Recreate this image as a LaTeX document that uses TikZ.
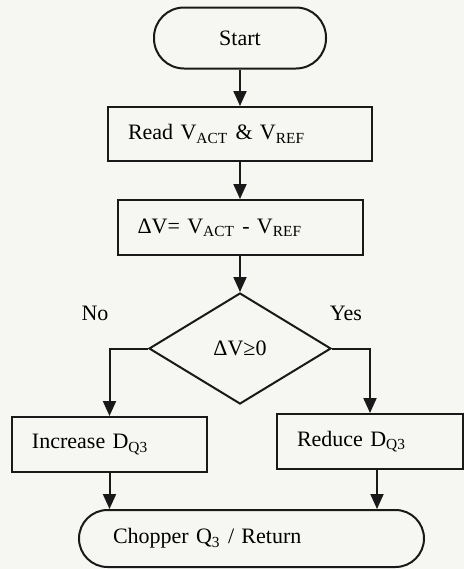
\documentclass[tikz,border=0pt]{standalone}
\usepackage{fontspec}
\setmainfont{Liberation Serif}
\usepackage{xcolor}
\usetikzlibrary{shapes.geometric,arrows.meta}
\definecolor{mypaper}{RGB}{246,246,242}
\definecolor{myink}{RGB}{25,25,25}

\begin{document}
\begin{tikzpicture}[auto, font=\fontsize{11}{13}\selectfont,
  terminal/.style={rectangle, draw=myink, line width=1pt, rounded corners=#1, align=center},
  block/.style={rectangle, draw=myink, line width=1pt, align=left, inner xsep=10pt, text width=#1, minimum height=27.5pt},
  decision/.style={diamond, draw=myink, line width=1pt, minimum width=91pt, minimum height=55.5pt, inner sep=0pt},
  arrow/.style={-{Triangle[width=6.5pt,length=7.5pt]}, line width=1pt, myink}]

% paper
\fill[mypaper] (0,0) rectangle (232pt,-284.5pt);

\node[terminal=15pt, minimum width=86pt, minimum height=30.5pt] (start) at (120pt,-19pt) {Start};
\node[block=112pt, minimum height=27pt, below of=start, node distance=48pt] (read) {Read V\textsubscript{ACT} \& V\textsubscript{REF}};
\node[block=102.5pt, below of=read, node distance=46.75pt] (delta) {ΔV= V\textsubscript{ACT} - V\textsubscript{REF}};
\node[decision, below of=delta, node distance=60.5pt] (check) {ΔV≥0};
\node[block=77.5pt, below of=check, node distance=48pt, xshift=-65.25pt] (incr) {Increase D\textsubscript{Q3}};
\node[block=73pt, below of=check, node distance=46.5pt, xshift=65pt] (reduce) {Reduce D\textsubscript{Q3}};
\node[terminal=14.25pt, align=left, inner xsep=17pt, text width=138.5pt, minimum height=28.5pt, below of=check, node distance=95pt, xshift=5.75pt] (chopper) {Chopper Q\textsubscript{3} / Return};

\node (no) at ([xshift=-26.5pt, yshift=17.75pt]check.west) {No};
\node (yes) at ([xshift=7pt, yshift=17.75pt]check.east) {Yes};

\draw[arrow] (start) -- (read);
\draw[arrow] (read) -- (delta);
\draw[arrow] (delta) -- (check);
\draw[arrow] (check.west) -| (incr.north);
\draw[arrow] (check.east) -| (reduce.north);
\draw[arrow] (incr.south) -- (incr.south |- chopper.north);
\draw[arrow] ([xshift=3.5pt]reduce.south) -- ([xshift=3.5pt]reduce.south |- chopper.north);
\end{tikzpicture}
\end{document}
